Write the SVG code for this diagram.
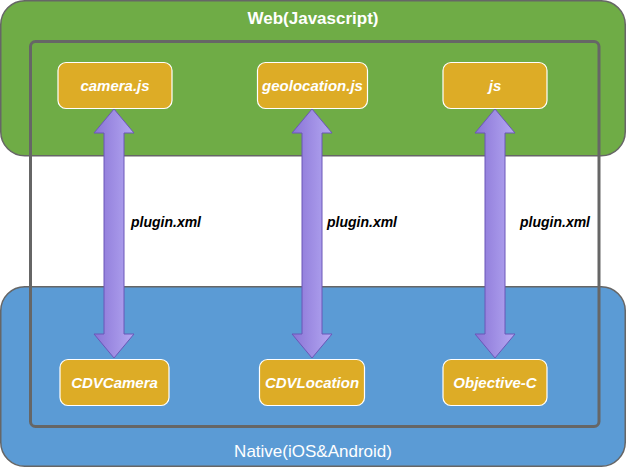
<svg xmlns="http://www.w3.org/2000/svg" width="626" height="467" viewBox="0 0 626 467">
<defs>
<linearGradient id="ag" x1="0" y1="0" x2="1" y2="0">
<stop offset="0" stop-color="#8a74d6"/>
<stop offset="1" stop-color="#b4a8f2"/>
</linearGradient>
<style>
.layer{stroke:#666;stroke-width:1.5}
.node rect{fill:#ddac26;stroke:#fff;stroke-width:1.2}
.node text{fill:#fff;font-family:"Liberation Sans",Arial,sans-serif;font-weight:bold;font-style:italic;font-size:15px;text-anchor:middle}
.arrow{fill:url(#ag);stroke:#6b56b8;stroke-width:1}
.lbl{fill:#000;font-family:"Liberation Sans",Arial,sans-serif;font-weight:bold;font-style:italic;font-size:14px}
.title{fill:#fff;font-family:"Liberation Sans",Arial,sans-serif;text-anchor:middle}
</style>
</defs>
<g id="web">
<rect class="layer" x="0.75" y="0.75" width="624.5" height="155" rx="24" fill="#6fac46"/>
<text class="title" x="313" y="24" font-size="17" font-weight="bold">Web(Javascript)</text>
</g>
<g id="native">
<rect class="layer" x="0.75" y="286.75" width="624.5" height="179.5" rx="24" fill="#5b9bd5"/>
<text class="title" x="313" y="457" font-size="17">Native(iOS&amp;Android)</text>
</g>
<g id="plugin-frame">
<rect x="30.5" y="41.5" width="568.5" height="385" rx="5" fill="none" stroke="#666" stroke-width="3"/>
</g>
<g id="connectors">
<path class="arrow" d="M114 109 L134 133 L124 133 L124 334 L134 334 L114 358 L94 334 L104 334 L104 133 L94 133 Z"/>
<path class="arrow" d="M312 109 L332 133 L322 133 L322 334 L332 334 L312 358 L292 334 L302 334 L302 133 L292 133 Z"/>
<path class="arrow" d="M495 109 L515 133 L505 133 L505 334 L515 334 L495 358 L475 334 L485 334 L485 133 L475 133 Z"/>
<text class="lbl" x="131" y="227">plugin.xml</text>
<text class="lbl" x="327" y="227">plugin.xml</text>
<text class="lbl" x="520" y="227">plugin.xml</text>
</g>
<g id="camera-js" class="node">
<rect x="58" y="62.5" width="114" height="46" rx="8"/>
<text x="115" y="91">camera.js</text>
</g>
<g id="geolocation-js" class="node">
<rect x="257.5" y="62.5" width="110" height="46" rx="8"/>
<text x="312.5" y="91">geolocation.js</text>
</g>
<g id="js" class="node">
<rect x="443" y="62.5" width="104" height="46" rx="8"/>
<text x="495" y="91">js</text>
</g>
<g id="cdvcamera" class="node">
<rect x="60" y="359.5" width="109" height="46" rx="8"/>
<text x="114.5" y="388">CDVCamera</text>
</g>
<g id="cdvlocation" class="node">
<rect x="259.5" y="359.5" width="105" height="46" rx="8"/>
<text x="312" y="388">CDVLocation</text>
</g>
<g id="objective-c" class="node">
<rect x="443" y="359.5" width="104" height="46" rx="8"/>
<text x="495" y="388">Objective-C</text>
</g>
</svg>
